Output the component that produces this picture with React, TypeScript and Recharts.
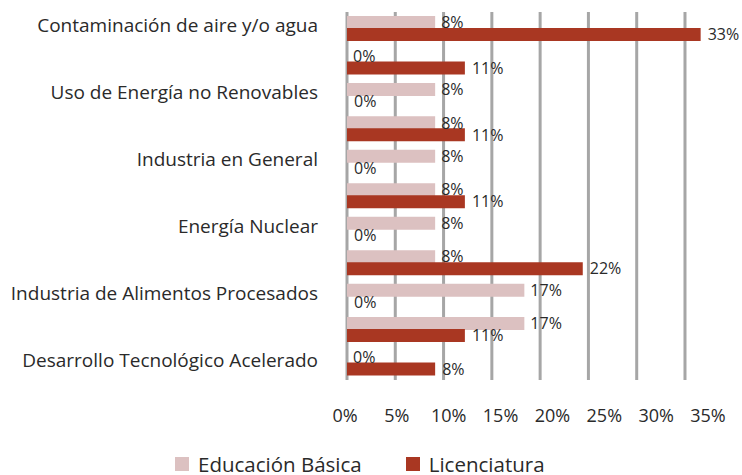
import React from "react";
import { BarChart, Bar, XAxis, YAxis, CartesianGrid, Legend, LabelList } from "recharts";

const rowLabels = [
  "Contaminación de aire y/o agua",
  "",
  "Uso de Energía no Renovables",
  "",
  "Industria en General",
  "",
  "Energía Nuclear",
  "",
  "Industria de Alimentos Procesados",
  "",
  "Desarrollo Tecnológico Acelerado",
];
const educacionBasica = [0.083, 0, 0.083, 0.083, 0.083, 0.083, 0.083, 0.083, 0.167, 0.167, 0];
const licenciatura = [0.333, 0.111, 0, 0.111, 0, 0.111, 0, 0.222, 0, 0.111, 0.083];
const tickValues = [0, 0.05, 0.1, 0.15, 0.2, 0.25, 0.3, 0.35];
const seriesNames = ["Educación Básica", "Licenciatura"];
const seriesColors = ["#dcc1c1", "#a93722"];

const rows = rowLabels.map((name, i) => ({
  id: i,
  name,
  basica: educacionBasica[i],
  lic: licenciatura[i],
}));

const FONT = "'Open Sans', sans-serif";
const TEXT = "#2a2a2a";

const pct = (v: any) => `${Math.round(Number(v) * 100)}%`;

const CategoryTick = (props: any) => {
  const { x, y, payload } = props;
  const label = rowLabels[payload.value] ?? "";
  return (
    <text x={x} y={y - 3} dy="0.355em" textAnchor="end" fontSize={19} fill={TEXT} fontFamily={FONT}>
      {label}
    </text>
  );
};

const ValueTick = (props: any) => {
  const { x, y, payload } = props;
  return (
    <text x={x - 2} y={y} dy="0.71em" textAnchor="middle" fontSize={18} fill={TEXT} fontFamily={FONT}>
      {pct(payload.value)}
    </text>
  );
};

const LegendContent = () => (
  <div
    style={{
      height: 28,
      display: "flex",
      alignItems: "center",
      paddingLeft: 175,
      boxSizing: "border-box",
      transform: "translateY(3px)",
      fontFamily: FONT,
      fontSize: 20.5,
      color: TEXT,
    }}
  >
    {seriesNames.map((n, i) => (
      <div key={n} style={{ display: "flex", alignItems: "center", marginRight: i === 0 ? 44 : 0 }}>
        <div style={{ width: 14, height: 14, background: seriesColors[i], marginRight: 9 }} />
        <span style={{ whiteSpace: "nowrap", lineHeight: "24px" }}>{n}</span>
      </div>
    ))}
  </div>
);

export default function App() {
  return (
    <div style={{ position: "absolute", left: 0, top: 0, width: 742, height: 475, background: "#fff" }}>
      <BarChart
        width={742}
        height={475}
        data={rows}
        layout="vertical"
        margin={{ top: 12, right: 32, bottom: 0, left: 0 }}
        barSize={13}
        barGap={-1}
        style={{ fontFamily: FONT }}
      >
        <CartesianGrid
          xAxisId="grid"
          horizontal={false}
          vertical={true}
          syncWithTicks={true}
          stroke="#a6a6a6"
          strokeWidth={3}
        />
        <XAxis
          xAxisId="labels"
          type="number"
          domain={[0, 0.35]}
          ticks={tickValues}
          interval={0}
          allowDataOverflow
          axisLine={false}
          tickLine={false}
          tickSize={0}
          tickMargin={29}
          height={67}
          tick={<ValueTick />}
        />
        <XAxis xAxisId="bars" type="number" domain={[0, 0.3418]} allowDataOverflow hide height={0} />
        <XAxis xAxisId="grid" type="number" domain={[0, 0.3759]} ticks={tickValues} interval={0} allowDataOverflow hide height={0} />
        <YAxis
          type="category"
          dataKey="id"
          width={347}
          interval={0}
          axisLine={false}
          tickLine={false}
          tickSize={0}
          tickMargin={29}
          tick={<CategoryTick />}
        />
        <Legend verticalAlign="bottom" align="left" wrapperStyle={{ left: 0, width: 742 }} content={<LegendContent />} />
        <Bar xAxisId="bars" dataKey="basica" name={seriesNames[0]} fill={seriesColors[0]} minPointSize={0.01} isAnimationActive={false}>
          <LabelList dataKey="basica" position="right" offset={6} formatter={pct} fontSize={16} fill={TEXT} fontFamily={FONT} />
        </Bar>
        <Bar xAxisId="bars" dataKey="lic" name={seriesNames[1]} fill={seriesColors[1]} minPointSize={0.01} isAnimationActive={false}>
          <LabelList dataKey="lic" position="right" offset={7} formatter={pct} fontSize={16} fill={TEXT} fontFamily={FONT} />
        </Bar>
      </BarChart>
    </div>
  );
}
